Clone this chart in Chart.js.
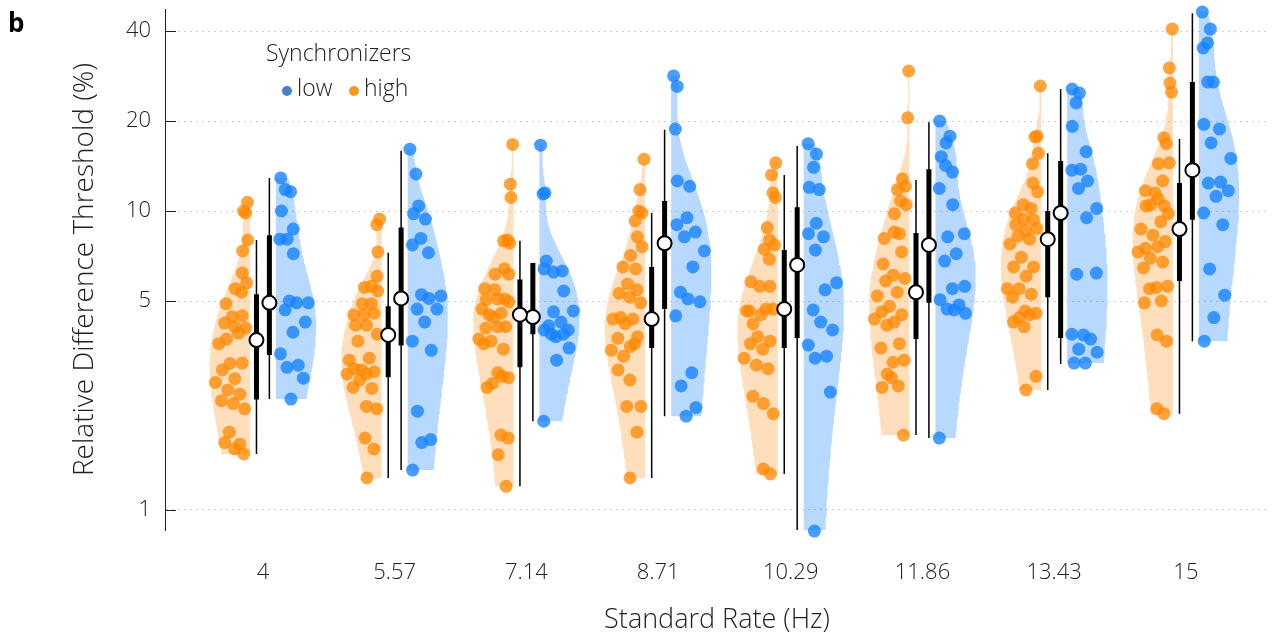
<!DOCTYPE html>
<html>
<head>
<meta charset="utf-8">
<script src="https://cdn.jsdelivr.net/npm/chart.js@4"></script>
<style>
  html, body { margin: 0; padding: 0; background: #fff; }
</style>
</head>
<body>
<canvas id="chart" width="1278" height="637"></canvas>
<script>
const RATES = [4, 5.57, 7.14, 8.71, 10.29, 11.86, 13.43, 15];
const Y_TICKS = [1, 5, 10, 20, 40];

// individual thresholds (%), high synchronizers, one list per rate
const HIGH = [
  [10.7, 10.0, 9.85, 8.0, 7.35, 6.2, 5.75, 5.5, 5.35, 4.9, 4.43, 4.46, 4.22, 4.1, 4.06, 3.73, 3.9, 3.6, 3.09, 3.1, 2.94, 2.75, 2.67, 2.52, 2.44, 2.32, 2.27, 2.18, 1.82, 1.66, 1.68, 1.6, 1.54],
  [9.4, 9.0, 7.3, 6.05, 5.55, 5.6, 5.4, 4.9, 4.9, 4.5, 4.5, 4.55, 4.15, 4.15, 3.87, 3.67, 3.22, 3.17, 2.94, 2.9, 2.97, 2.85, 2.85, 2.72, 2.55, 2.57, 2.22, 2.18, 1.74, 1.6, 1.28],
  [16.7, 12.3, 11.1, 7.8, 7.95, 8.0, 6.15, 6.15, 6.4, 5.5, 5.45, 5.08, 5.05, 5.08, 4.97, 4.5, 4.55, 4.7, 4.4, 4.1, 4.06, 4.1, 3.73, 3.67, 3.45, 3.6, 2.88, 2.77, 2.65, 2.8, 2.57, 1.78, 1.74, 1.53, 1.2],
  [14.9, 11.8, 10.0, 9.85, 9.26, 8.2, 7.6, 7.1, 6.4, 6.5, 5.7, 5.45, 5.3, 5.15, 4.93, 4.4, 4.35, 4.35, 4.2, 3.8, 3.75, 3.52, 3.42, 3.27, 3.6, 2.94, 2.72, 2.22, 2.22, 1.82, 1.28],
  [14.5, 13.2, 11.5, 11.1, 8.8, 8.0, 7.7, 7.45, 6.9, 5.8, 5.6, 5.6, 4.63, 4.5, 4.7, 4.2, 4.7, 4.63, 3.8, 3.67, 3.6, 3.45, 3.22, 3.05, 2.97, 2.4, 2.27, 2.1, 1.37, 1.32],
  [29.4, 20.5, 12.8, 12.1, 11.8, 10.8, 10.5, 9.8, 8.4, 8.1, 8.5, 7.3, 6.65, 6.1, 5.95, 5.83, 5.35, 5.2, 4.8, 4.5, 4.6, 4.25, 4.35, 4.15, 3.6, 3.48, 3.12, 3.17, 2.85, 2.6, 2.57, 2.77, 1.78],
  [26.2, 17.7, 17.8, 15.6, 14.4, 12.4, 11.6, 10.5, 10.2, 9.85, 9.4, 9.35, 9.0, 8.6, 8.75, 8.25, 8.05, 7.75, 7.0, 6.5, 6.5, 6.05, 5.5, 5.5, 5.27, 5.15, 4.63, 4.55, 4.4, 4.5, 4.25, 4.1, 2.8, 2.52],
  [40.6, 30.1, 26.8, 25.0, 17.6, 16.8, 14.5, 14.4, 12.6, 11.7, 11.5, 10.4, 10.4, 11.0, 9.8, 10.5, 9.2, 8.7, 8.3, 7.9, 7.5, 7.6, 7.3, 6.95, 6.75, 6.45, 5.55, 5.6, 5.5, 5.0, 4.93, 3.85, 3.67, 2.18, 2.1]
];

// individual thresholds (%), low synchronizers
const LOW = [
  [12.9, 11.6, 11.8, 10.0, 8.7, 8.05, 8.05, 7.2, 5.0, 4.93, 4.93, 4.67, 4.25, 3.93, 3.33, 3.05, 3.0, 2.76, 2.35],
  [16.1, 13.3, 10.4, 9.8, 9.4, 8.1, 7.7, 7.25, 5.25, 5.2, 5.1, 4.7, 4.7, 4.25, 3.67, 3.42, 2.14, 1.72, 1.68, 1.36],
  [16.6, 11.5, 11.4, 6.8, 6.3, 6.25, 6.4, 5.4, 4.6, 4.63, 4.25, 4.13, 4.0, 3.8, 4.0, 3.87, 3.87, 3.48, 3.17, 1.98],
  [28.3, 26.1, 18.8, 12.6, 12.1, 9.5, 9.0, 8.5, 8.2, 7.35, 6.5, 5.35, 4.97, 5.08, 4.46, 2.88, 2.6, 2.2, 2.06],
  [16.8, 15.5, 14.0, 12.0, 11.8, 9.1, 8.4, 8.2, 7.4, 5.75, 5.45, 4.67, 4.0, 4.25, 3.56, 3.27, 3.22, 2.48, 0.85],
  [20.0, 17.8, 16.9, 15.2, 13.5, 14.2, 11.9, 10.5, 8.2, 8.4, 7.2, 6.8, 5.6, 5.5, 5.05, 4.85, 4.7, 4.55, 4.67, 1.74],
  [25.6, 24.8, 23.0, 19.2, 15.8, 13.8, 13.7, 12.6, 11.9, 10.2, 9.5, 6.15, 6.2, 3.85, 3.87, 3.73, 3.45, 3.37, 3.1, 3.1],
  [46.3, 40.6, 36.5, 35.1, 27.0, 27.0, 19.5, 18.8, 16.9, 15.0, 12.5, 12.4, 11.7, 11.2, 9.85, 9.0, 6.4, 5.23, 4.4, 3.67]
];

// box summaries
const HIGH_MEDIAN = [3.7, 3.85, 4.5, 4.35, 4.7, 5.35, 8.05, 8.7];
const HIGH_Q1 = [2.34, 2.78, 3.0, 3.48, 3.48, 3.73, 5.15, 5.83];
const HIGH_Q3 = [5.27, 4.8, 5.9, 6.5, 7.4, 8.45, 10.0, 12.4];
const HIGH_WLO = [1.54, 1.28, 1.2, 1.28, 1.32, 1.78, 2.52, 2.1];
const HIGH_WHI = [8.0, 7.25, 7.95, 9.85, 13.2, 12.7, 15.6, 17.4];

const LOW_MEDIAN = [4.93, 5.1, 4.42, 7.8, 6.6, 7.7, 9.85, 13.7];
const LOW_Q1 = [3.3, 3.55, 3.87, 4.7, 3.76, 4.93, 3.76, 9.35];
const LOW_Q3 = [8.3, 8.8, 6.7, 10.8, 10.3, 13.8, 14.7, 27.0];
const LOW_WLO = [2.35, 1.36, 1.98, 2.06, 0.85, 1.74, 3.08, 3.67];
const LOW_WHI = [12.9, 15.9, 6.7, 18.7, 16.5, 19.8, 25.6, 45.9];

const FONT = '"Open Sans"';
const TEXT = '#222';
const ORANGE = 'rgba(255,135,0,0.75)';
const BLUE = 'rgba(20,130,255,0.78)';
const ORANGE_FILL = 'rgba(255,160,60,0.35)';
const BLUE_FILL = 'rgba(40,140,255,0.33)';

const EDGE = 0.155;   // gap between rate and flat side of violin (Hz)
const HALF_W = 0.48;  // widest violin extent (Hz)
const BOX_OFF = 0.077;

// gaussian kde on the raw values, cut at the data range
function kde(vals) {
  const n = vals.length;
  const mean = vals.reduce((a, b) => a + b, 0) / n;
  const sd = Math.sqrt(vals.reduce((a, b) => a + (b - mean) ** 2, 0) / (n - 1));
  const h = sd * Math.pow(n, -0.2);
  const f = v => vals.reduce((s, x) => s + Math.exp(-0.5 * ((v - x) / h) ** 2), 0);
  const lo = Math.log10(Math.min(...vals)), hi = Math.log10(Math.max(...vals));
  const grid = [];
  for (let i = 0; i <= 80; i++) {
    const v = 10 ** (lo + (hi - lo) * i / 80);
    grid.push([v, f(v)]);
  }
  const peak = Math.max(...grid.map(g => g[1]));
  return { grid, peak, f };
}

function violin(rate, vals, side) {
  const { grid, peak } = kde(vals);
  const base = rate + side * EDGE;
  const first = grid[0][0], last = grid[grid.length - 1][0];
  const pts = [{ x: base, y: first }];
  grid.forEach(([v, d]) => pts.push({ x: base + side * HALF_W * d / peak, y: v }));
  pts.push({ x: base, y: last }, { x: base, y: first });
  return pts;
}

// spread points inside the violin outline
function strip(rate, vals, side) {
  const { f, peak } = kde(vals);
  return vals.map((v, i) => {
    const u = (0.37 + i * 0.618034) % 1;
    const w = HALF_W * f(v) / peak;
    return { x: rate + side * (EDGE + (0.1 + 0.8 * u) * w), y: v };
  });
}

function segs(lo, hi, side) {
  const out = [];
  RATES.forEach((r, i) => {
    const x = r + side * BOX_OFF;
    out.push({ x, y: lo[i] }, { x, y: hi[i] }, { x, y: null });
  });
  return out;
}

const datasets = [];
RATES.forEach((r, i) => {
  datasets.push({ data: violin(r, HIGH[i], -1), showLine: true, fill: 'shape', backgroundColor: ORANGE_FILL, borderWidth: 0, pointRadius: 0, order: 5 });
  datasets.push({ data: violin(r, LOW[i], 1), showLine: true, fill: 'shape', backgroundColor: BLUE_FILL, borderWidth: 0, pointRadius: 0, order: 5 });
});
RATES.forEach((r, i) => {
  datasets.push({ data: strip(r, HIGH[i], -1), pointRadius: 6.5, pointBackgroundColor: ORANGE, pointBorderWidth: 0, clip: false, order: 4 });
  datasets.push({ data: strip(r, LOW[i], 1), pointRadius: 6.5, pointBackgroundColor: BLUE, pointBorderWidth: 0, clip: false, order: 4 });
});
datasets.push({ data: segs(HIGH_WLO, HIGH_WHI, -1), showLine: true, borderColor: '#000', borderWidth: 1.5, pointRadius: 0, order: 3 });
datasets.push({ data: segs(LOW_WLO, LOW_WHI, 1), showLine: true, borderColor: '#000', borderWidth: 1.5, pointRadius: 0, order: 3 });
datasets.push({ data: segs(HIGH_Q1, HIGH_Q3, -1), showLine: true, borderColor: '#000', borderWidth: 5, pointRadius: 0, order: 2 });
datasets.push({ data: segs(LOW_Q1, LOW_Q3, 1), showLine: true, borderColor: '#000', borderWidth: 5, pointRadius: 0, order: 2 });
datasets.push({ data: RATES.map((r, i) => ({ x: r - BOX_OFF, y: HIGH_MEDIAN[i] })), pointRadius: 7, pointBackgroundColor: '#fff', pointBorderColor: '#000', pointBorderWidth: 2, order: 1 });
datasets.push({ data: RATES.map((r, i) => ({ x: r + BOX_OFF, y: LOW_MEDIAN[i] })), pointRadius: 7, pointBackgroundColor: '#fff', pointBorderColor: '#000', pointBorderWidth: 2, order: 1 });

const decor = {
  id: 'decor',
  afterDraw(chart) {
    const { ctx, scales: { y }, chartArea } = chart;
    ctx.save();
    ctx.strokeStyle = TEXT;
    ctx.lineWidth = 1;
    Y_TICKS.forEach(v => {
      const py = Math.round(y.getPixelForValue(v)) + 0.5;
      ctx.beginPath();
      ctx.moveTo(chartArea.left, py);
      ctx.lineTo(chartArea.left + 11, py);
      ctx.stroke();
    });
    ctx.fillStyle = '#000';
    ctx.font = `bold 26px ${FONT}`;
    ctx.textBaseline = 'alphabetic';
    ctx.fillText('b', 8, 32);

    // legend
    ctx.fillStyle = TEXT;
    ctx.font = `300 23px ${FONT}`;
    ctx.textBaseline = 'middle';
    ctx.fillText('Synchronizers', 266, 54);
    ctx.beginPath(); ctx.fillStyle = '#4a7fc8'; ctx.arc(287, 91, 5, 0, Math.PI * 2); ctx.fill();
    ctx.beginPath(); ctx.fillStyle = '#f39a1f'; ctx.arc(354, 91, 5, 0, Math.PI * 2); ctx.fill();
    ctx.fillStyle = TEXT;
    ctx.fillText('low', 297, 89);
    ctx.fillText('high', 364, 89);
    ctx.restore();
  }
};

new Chart(document.getElementById('chart'), {
  type: 'scatter',
  data: { datasets },
  plugins: [decor],
  options: {
    responsive: false,
    animation: false,
    layout: { padding: { top: 8, right: 8, left: 0, bottom: 0 } },
    plugins: { legend: { display: false }, tooltip: { enabled: false } },
    scales: {
      x: {
        type: 'linear',
        min: 2.833,
        max: 15.99,
        afterBuildTicks: s => { s.ticks = RATES.map(v => ({ value: v })); },
        afterFit: s => { s.height = 107; s.paddingLeft = 0; s.paddingRight = 0; },
        ticks: { callback: v => String(v), padding: 30, color: TEXT, font: { family: FONT, size: 22, weight: '300' } },
        grid: { display: false, drawTicks: false },
        border: { display: false },
        title: { display: true, text: 'Standard Rate (Hz)', color: TEXT, font: { family: FONT, size: 27, weight: '300' }, padding: { top: 0, bottom: 0 } }
      },
      y: {
        type: 'logarithmic',
        min: 0.857,
        max: 47.4,
        afterBuildTicks: s => { s.ticks = Y_TICKS.map(v => ({ value: v })); },
        afterFit: s => { s.width = 165; s.paddingTop = 0; s.paddingBottom = 0; },
        ticks: { callback: v => String(v), padding: 14, color: TEXT, font: { family: FONT, size: 22, weight: '300' } },
        grid: { color: '#cfcfcf', lineWidth: 1, drawTicks: false },
        border: { display: true, color: TEXT, width: 1, dash: [2, 4] },
        title: { display: true, text: 'Relative Difference Threshold (%)', color: TEXT, font: { family: FONT, size: 28, weight: '300' }, padding: { top: 68, bottom: 0 } }
      }
    }
  }
});
</script>
</body>
</html>
